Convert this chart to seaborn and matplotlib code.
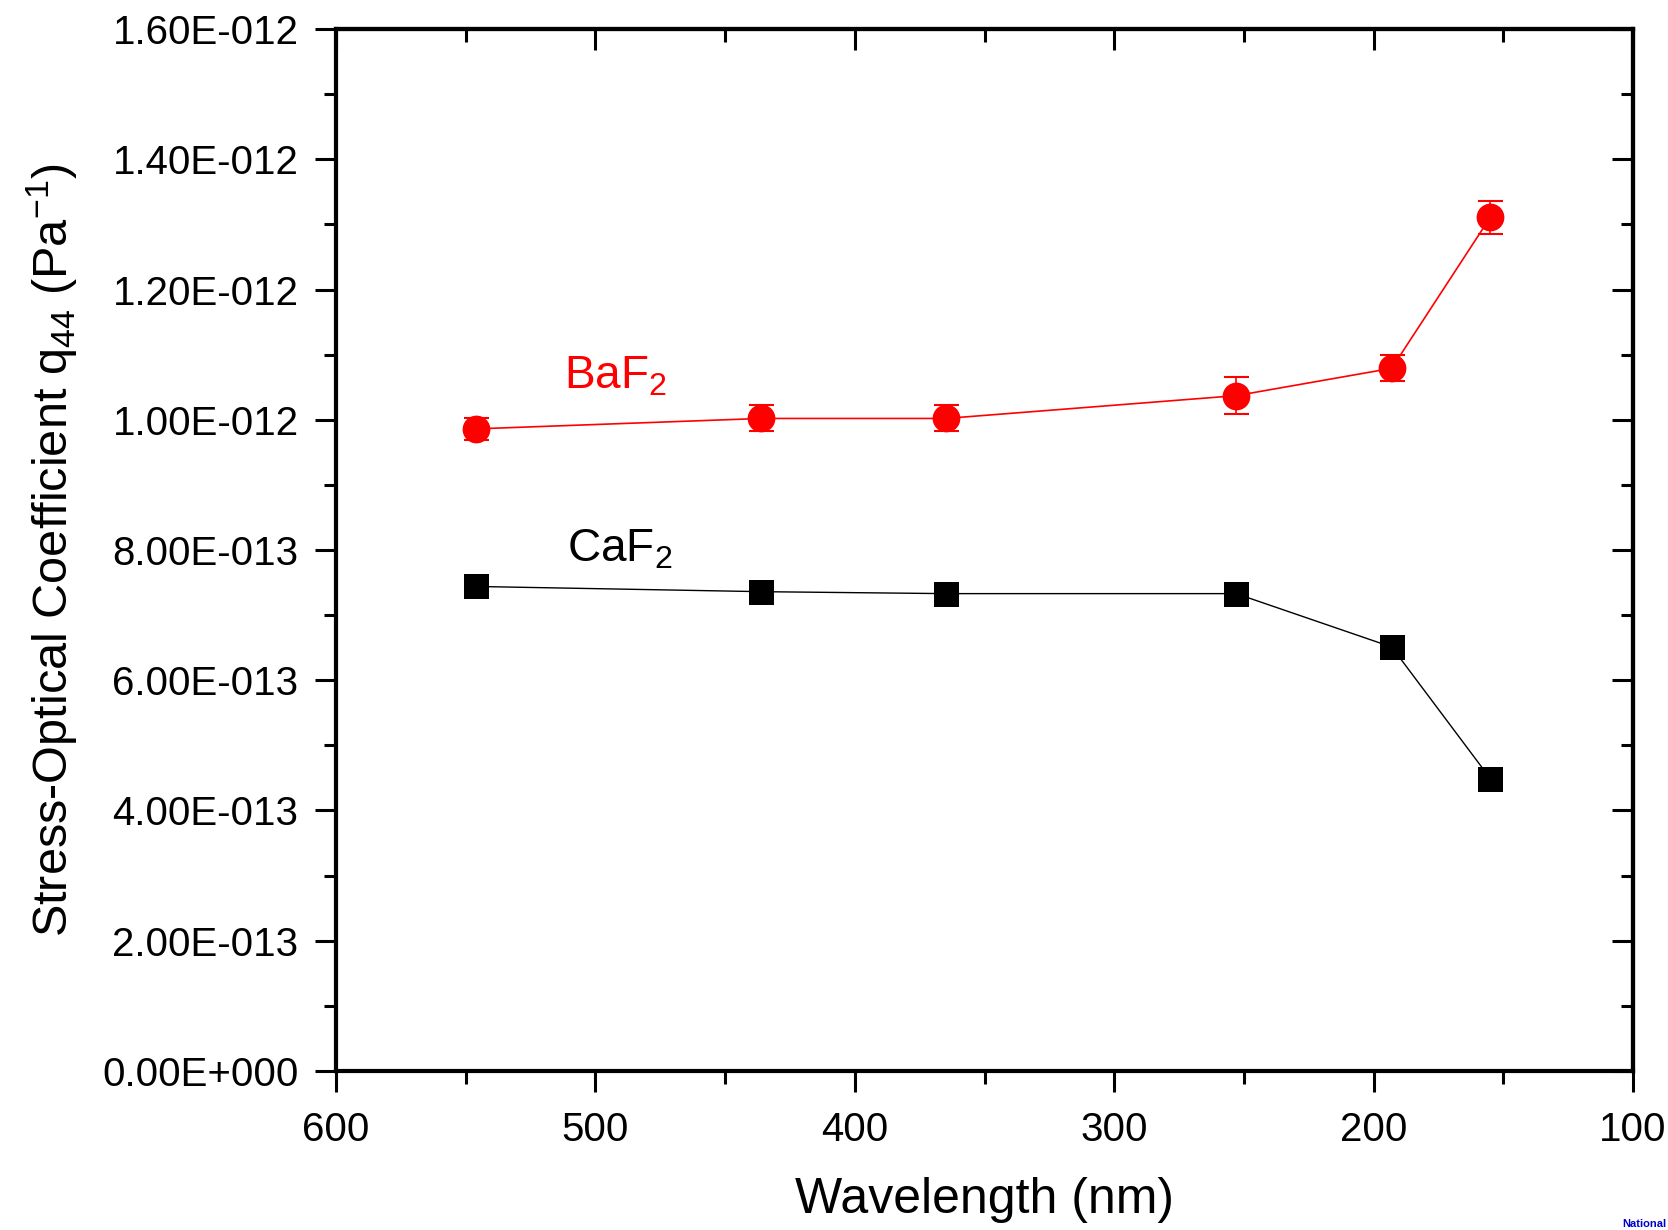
import matplotlib
matplotlib.use("Agg")
import matplotlib.pyplot as plt
from matplotlib.ticker import FixedLocator, MultipleLocator, FixedFormatter
import seaborn as sns

# ── data ──────────────────────────────────────────────────────────────────────
wavelength = [546, 436, 365, 253, 193, 155]            # nm
baf2_q44   = [9.86e-13, 10.02e-13, 10.02e-13, 10.37e-13, 10.79e-13, 13.11e-13]
baf2_err   = [0.17e-13, 0.20e-13, 0.20e-13, 0.28e-13, 0.20e-13, 0.25e-13]
caf2_q44   = [7.44e-13, 7.36e-13, 7.33e-13, 7.33e-13, 6.51e-13, 4.49e-13]

x_ticks = [600, 500, 400, 300, 200, 100]
y_ticks = [0, 2e-13, 4e-13, 6e-13, 8e-13, 10e-13, 12e-13, 14e-13, 16e-13]
y_tick_labels = ["0.00E+000", "2.00E-013", "4.00E-013", "6.00E-013", "8.00E-013",
                 "1.00E-012", "1.20E-012", "1.40E-012", "1.60E-012"]

sns.set_theme(style="ticks")
plt.rcParams["font.family"] = ["Liberation Sans", "DejaVu Sans"]
plt.rcParams["mathtext.fontset"] = "custom"
plt.rcParams["mathtext.rm"] = "Liberation Sans"
plt.rcParams["mathtext.it"] = "Liberation Sans"
plt.rcParams["text.color"] = "black"
plt.rcParams["axes.labelcolor"] = "black"

fig = plt.figure(figsize=(16.68, 12.30), dpi=100)
ax = fig.add_axes([0.2015, 0.1293, 0.7775, 0.8471])

# BaF2 (red circles with error bars)
ax.errorbar(wavelength, baf2_q44, yerr=baf2_err, fmt="none", ecolor="red",
            elinewidth=1.2, capsize=9, capthick=1.5, zorder=2)
sns.lineplot(x=wavelength, y=baf2_q44, color="red", marker="o", markersize=20,
             markeredgewidth=0, linewidth=1.2, ax=ax, zorder=3)

# CaF2 (black squares)
sns.lineplot(x=wavelength, y=caf2_q44, color="black", marker="s", markersize=18,
             markeredgewidth=0, linewidth=1.0, ax=ax, zorder=3)

ax.text(512, 10.48e-13, "BaF$_2$", color="red", fontsize=33, ha="left", va="baseline")
ax.text(511, 7.82e-13, "CaF$_2$", color="black", fontsize=33, ha="left", va="baseline")

ax.set_xlim(600, 100)
ax.set_ylim(0, 1.6e-12)

ax.xaxis.set_major_locator(FixedLocator(x_ticks))
ax.xaxis.set_minor_locator(MultipleLocator(50))
ax.yaxis.set_major_locator(FixedLocator(y_ticks))
ax.yaxis.set_major_formatter(FixedFormatter(y_tick_labels))
ax.yaxis.set_minor_locator(MultipleLocator(1e-13))

ax.tick_params(which="major", direction="out", length=15, width=2.2,
               labelsize=29, colors="black", labelcolor="black")
ax.tick_params(axis="y", pad=12)
ax.tick_params(axis="x", pad=14)
ax.tick_params(which="minor", direction="out", length=9, width=2.2, colors="black")
ax.tick_params(top=False, right=False, which="both")

for s in ax.spines.values():
    s.set_linewidth(3)
    s.set_color("black")

# mirrored ticks pointing inward on top and right
top = ax.secondary_xaxis("top")
top.xaxis.set_major_locator(FixedLocator(x_ticks))
top.xaxis.set_minor_locator(MultipleLocator(50))
top.tick_params(which="major", direction="in", length=15, width=2.2, labeltop=False, colors="black")
top.tick_params(which="minor", direction="in", length=9, width=2.2, colors="black")
top.spines["top"].set_linewidth(3)

right = ax.secondary_yaxis("right")
right.yaxis.set_major_locator(FixedLocator(y_ticks))
right.yaxis.set_minor_locator(MultipleLocator(1e-13))
right.tick_params(which="major", direction="in", length=15, width=2.2, labelright=False, colors="black")
right.tick_params(which="minor", direction="in", length=9, width=2.2, colors="black")
right.spines["right"].set_linewidth(3)

ax.set_xlabel("Wavelength (nm)", fontsize=36, labelpad=20)
ax.set_ylabel("Stress-Optical Coefficient q$_{44}$ (Pa$^{-1}$)", fontsize=35, labelpad=16)

fig.text(0.999, 0.001, "National", color="#0000cc", fontsize=8,
         fontweight="bold", ha="right", va="bottom")

fig.savefig("out.png", dpi=100)
